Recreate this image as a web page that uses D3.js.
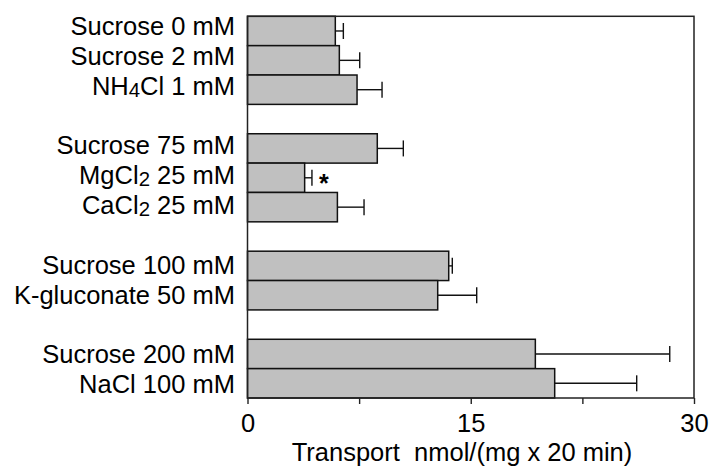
<!DOCTYPE html>
<head>
<meta charset="utf-8">
<style>
body { margin: 0; background: #fff; }
text { font-family: "Liberation Sans", Arial, sans-serif; fill: #000; }
.bar { fill: #c0c0c0; stroke: #111; stroke-width: 1.5; }
.err { stroke: #111; stroke-width: 1.4; fill: none; }
.frame { fill: none; stroke: #222; stroke-width: 1.5; }
</style>
</head>
<body>
<div id="chart"></div>
<script src="https://cdn.jsdelivr.net/npm/d3@7"></script>
<script>
(function() {
  "use strict";

  // "_x" marks a subscript character
  var labels = ["Sucrose 0 mM", "Sucrose 2 mM", "NH_4Cl 1 mM",
                "Sucrose 75 mM", "MgCl_2 25 mM", "CaCl_2 25 mM",
                "Sucrose 100 mM", "K-gluconate 50 mM",
                "Sucrose 200 mM", "NaCl 100 mM"];
  var groups = [0, 0, 0, 1, 1, 1, 2, 2, 3, 3];
  var values = [5.9, 6.17, 7.36, 8.72, 3.84, 6.04, 13.52, 12.78, 19.34, 20.64];
  var errors = [0.54, 1.37, 1.68, 1.75, 0.49, 1.79, 0.24, 2.62, 9.03, 5.51];
  var signif = [false, false, false, false, true, false, false, false, false, false];
  var xTicks = [0, 7.5, 15, 22.5, 30];
  var xTickLabels = {0: "0", 15: "15", 30: "30"};

  var
    W = 709,
    H = 466,
    margin = {top: 16.3, right: 15, bottom: 68, left: 247.5},
    w = W - margin.left - margin.right,
    h = H - margin.top - margin.bottom,
    fs = 25.5;

  var nSlots = labels.length + groups[groups.length - 1];
  var slots = d3.range(nSlots);

  var data = labels.map(function(l, i) {
    return {label: l, value: values[i], err: errors[i], slot: i + groups[i], sig: signif[i]};
  });

  var svg = d3.select("#chart").append("svg")
    .attr("width", W)
    .attr("height", H);

  var g = svg.append("g")
    .attr("transform", "translate(" + margin.left + "," + margin.top + ")");

  var x = d3.scaleLinear().domain([0, 30]).range([0, w]);
  var y = d3.scaleBand().domain(slots).range([0, h]).padding(0);
  // category labels sit on a slightly wider spacing than the bars
  var yLab = d3.scaleLinear().domain([0, nSlots - 1]).range([35 - margin.top, 393.3 - margin.top]);

  g.selectAll("rect.bar")
    .data(data)
    .enter().append("rect")
      .attr("class", "bar")
      .attr("x", x(0))
      .attr("y", function(d) { return y(d.slot); })
      .attr("width", function(d) { return x(d.value) - x(0); })
      .attr("height", y.bandwidth());

  var eb = g.selectAll("g.eb")
    .data(data)
    .enter().append("g")
      .attr("transform", function(d) { return "translate(0," + (y(d.slot) + y.bandwidth() / 2) + ")"; });

  eb.append("line")
    .attr("class", "err")
    .attr("x1", function(d) { return x(d.value); })
    .attr("x2", function(d) { return x(d.value + d.err); });
  eb.append("line")
    .attr("class", "err")
    .attr("x1", function(d) { return x(d.value + d.err); })
    .attr("x2", function(d) { return x(d.value + d.err); })
    .attr("y1", -8)
    .attr("y2", 8);

  eb.filter(function(d) { return d.sig; })
    .append("text")
      .attr("x", function(d) { return x(d.value + d.err) + 7; })
      .attr("y", 14)
      .attr("font-size", 25)
      .attr("font-weight", "bold")
      .text("*");

  // frame
  g.append("rect")
    .attr("class", "frame")
    .attr("width", w)
    .attr("height", h);

  // x axis
  var xAxis = d3.axisBottom(x)
    .tickValues(xTicks)
    .tickSize(6)
    .tickPadding(10)
    .tickFormat(function(d) { return xTickLabels[d] || ""; });

  var ax = g.append("g")
    .attr("transform", "translate(0," + h + ")")
    .call(xAxis);
  ax.select(".domain").remove();
  ax.selectAll(".tick line").attr("stroke", "#222").attr("stroke-width", 1.4);
  ax.selectAll(".tick text")
    .attr("font-family", null)
    .attr("font-size", fs)
    .attr("fill", "#000");

  // category labels
  var lab = g.selectAll("text.lab")
    .data(data)
    .enter().append("text")
      .attr("class", "lab")
      .attr("x", 235 - margin.left)
      .attr("y", function(d) { return yLab(d.slot); })
      .attr("text-anchor", "end")
      .attr("font-size", fs);

  lab.each(function(d) {
    var t = d3.select(this);
    var parts = d.label.split(/_(.)/);
    parts.forEach(function(p, k) {
      if (!p) return;
      if (k % 2 === 1) {
        t.append("tspan").attr("font-size", fs * 0.8).attr("dy", 2).text(p);
      } else {
        t.append("tspan").attr("dy", k > 0 ? -2 : 0).text(p);
      }
    });
  });

  // axis title
  svg.append("text")
    .attr("x", 462)
    .attr("y", 461)
    .attr("text-anchor", "middle")
    .attr("font-size", fs)
    .style("white-space", "pre")
    .text("Transport  nmol/(mg x 20 min)");

})();
</script>
</body>
